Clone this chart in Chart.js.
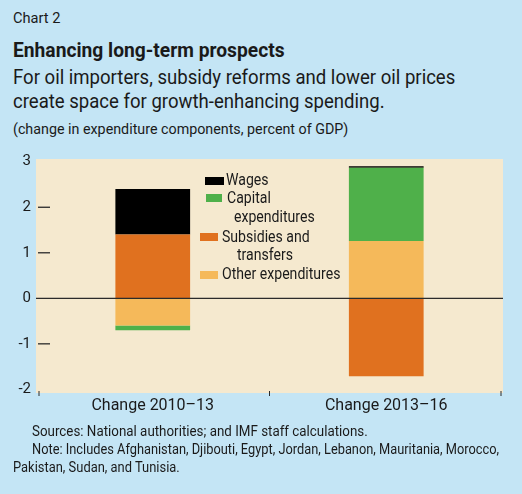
<!DOCTYPE html>
<html>
<head>
<meta charset="utf-8">
<script src="https://cdn.jsdelivr.net/npm/chart.js@4.4.1/dist/chart.umd.min.js"></script>
<style>
  html, body { margin: 0; padding: 0; }
  body {
    width: 522px; height: 494px; position: relative; overflow: hidden;
    background: #c4e5f5;
    font-family: Roboto, 'Noto Sans', sans-serif;
    color: #1a1a1a;
  }
  .t { position: absolute; left: 13px; white-space: nowrap; transform-origin: 0 50%; }
  #chartBox { position: absolute; left: 0; top: 145px; width: 522px; height: 280px; }
  .lg { position: absolute; white-space: nowrap; font-size: 16px; line-height: 18px; transform-origin: 0 50%; }
  .sw { position: absolute; }
</style>
</head>
<body>
<div class="t" data-w="47" style="top:9px;font-size:14px;line-height:18px;">Chart 2</div>
<div class="t" data-w="272" style="top:38px;font-size:20px;line-height:24px;font-weight:bold;">Enhancing long-term prospects</div>
<div class="t" data-w="442" style="top:65px;font-size:20px;line-height:24px;">For oil importers, subsidy reforms and lower oil prices</div>
<div class="t" data-w="372" style="top:89px;font-size:20px;line-height:24px;">create space for growth-enhancing spending.</div>
<div class="t" data-w="335" style="top:121px;font-size:14.5px;line-height:18px;">(change in expenditure components, percent of GDP)</div>

<div id="chartBox"><canvas id="expChart"></canvas></div>
<div id="legend"></div>

<div class="t" data-w="336" style="left:32px;top:422px;font-size:14px;line-height:18px;">Sources: National authorities; and IMF staff calculations.</div>
<div class="t" data-w="467" style="left:32px;top:440px;font-size:14px;line-height:18px;">Note: Includes Afghanistan, Djibouti, Egypt, Jordan, Lebanon, Mauritania, Morocco,</div>
<div class="t" data-w="167" style="top:458px;font-size:14px;line-height:18px;">Pakistan, Sudan, and Tunisia.</div>

<script>
const FONT = "Roboto, 'Noto Sans', sans-serif";

// data
const categories = ["Change 2010\u201313", "Change 2013\u201316"];
const otherExp = [-0.6, 1.26];
const subsidies = [1.4, -1.71];
const capitalExp = [-0.1, 1.61];
const wages = [1.0, 0.03];
const yTicks = [-2, -1, 0, 1, 2, 3];

const seriesNames = ["Other expenditures", "Subsidies and transfers", "Capital expenditures", "Wages"];
const seriesColors = ["#f5b95a", "#e0711f", "#4fb04a", "#000000"];

// ---- legend (html, inside plot area) ----
const legendItems = [
    { i: 3, sw: [205, 177, 19, 8], lines: [[226, 171, "Wages"]] },
    { i: 2, sw: [206, 194, 16, 8], lines: [[227, 189, "Capital"], [234, 208, "expenditures"]] },
    { i: 1, sw: [200, 233, 18, 8], lines: [[222, 228, "Subsidies and"], [237, 246, "transfers"]] },
    { i: 0, sw: [200, 271, 18, 8], lines: [[222, 265, "Other expenditures"]] }
];
const legendBox = document.getElementById("legend");
legendItems.forEach(item => {
    const s = document.createElement("div");
    s.className = "sw";
    s.style.left = item.sw[0] + "px";
    s.style.top = item.sw[1] + "px";
    s.style.width = item.sw[2] + "px";
    s.style.height = item.sw[3] + "px";
    s.style.background = seriesColors[item.i];
    legendBox.appendChild(s);
    item.lines.forEach(l => {
        const d = document.createElement("div");
        d.className = "lg";
        d.style.left = l[0] + "px";
        d.style.top = l[1] + "px";
        d.style.transform = "scaleX(0.88)";
        d.textContent = l[2];
        legendBox.appendChild(d);
    });
});

// squeeze the text lines to the narrow look of the original
document.querySelectorAll(".t[data-w]").forEach(el => {
    const w = +el.dataset.w;
    el.style.transform = "scaleX(" + (w / el.scrollWidth) + ")";
});

// plot background, zero line and small ticks
const decor = {
    id: "decor",
    beforeDatasetsDraw(chart) {
        const { ctx, chartArea: a } = chart;
        ctx.save();
        ctx.fillStyle = "#f5e9cf";
        ctx.fillRect(a.left, a.top, a.right - a.left, a.bottom - a.top);
        ctx.restore();
    },
    afterDatasetsDraw(chart) {
        const { ctx, chartArea: a, scales } = chart;
        ctx.save();
        ctx.strokeStyle = "#2b2b2b";
        ctx.lineWidth = 1.3;
        const y0 = scales.y.getPixelForValue(0);
        ctx.beginPath();
        ctx.moveTo(a.left, y0);
        ctx.lineTo(a.right, y0);
        ctx.stroke();
        // left ticks inside plot
        [-1, 1, 2].forEach(v => {
            const y = scales.y.getPixelForValue(v);
            ctx.beginPath();
            ctx.moveTo(a.left + 2, y);
            ctx.lineTo(a.left + 14, y);
            ctx.stroke();
        });
        // category boundary ticks at bottom
        const half = (scales.x.getPixelForValue(1) - scales.x.getPixelForValue(0)) / 2;
        ctx.lineWidth = 1;
        [scales.x.getPixelForValue(0) - half + 3, scales.x.getPixelForValue(0) + half, scales.x.getPixelForValue(1) + half - 2].forEach(x => {
            ctx.beginPath();
            ctx.moveTo(x, a.bottom - 2);
            ctx.lineTo(x, a.bottom + 3);
            ctx.stroke();
        });
        ctx.restore();
    }
};

const dataArrays = [otherExp, subsidies, capitalExp, wages];

new Chart(document.getElementById("expChart"), {
    type: "bar",
    data: {
        labels: categories,
        datasets: dataArrays.map((d, i) => ({
            label: seriesNames[i],
            data: d,
            backgroundColor: seriesColors[i],
            borderWidth: 0,
            categoryPercentage: 1,
            barPercentage: 0.32
        }))
    },
    options: {
        responsive: true,
        maintainAspectRatio: false,
        animation: false,
        layout: { padding: { top: 8, right: 19, left: 0, bottom: 0 } },
        plugins: {
            legend: { display: false },
            tooltip: { enabled: false }
        },
        scales: {
            x: {
                stacked: true,
                grid: { display: false, drawTicks: false },
                border: { display: false },
                ticks: { color: "#1a1a1a", font: { family: FONT, size: 16 }, padding: 3 },
                afterFit(s) { s.height = 32; }
            },
            y: {
                stacked: true,
                min: -2.08,
                max: 3.06,
                grid: { display: false, drawTicks: false },
                border: { display: false },
                ticks: { color: "#1a1a1a", font: { family: FONT, size: 15 }, padding: 5 },
                afterBuildTicks(s) { s.ticks = yTicks.map(v => ({ value: v })); },
                afterFit(s) { s.width = 36; }
            }
        }
    },
    plugins: [decor]
});
</script>
</body>
</html>
